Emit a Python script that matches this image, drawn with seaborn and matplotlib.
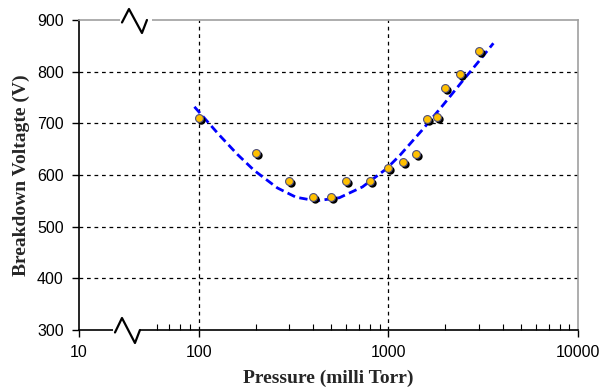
import numpy as np
import matplotlib
matplotlib.use("Agg")
import matplotlib.pyplot as plt
import matplotlib.transforms as mtransforms
from matplotlib.ticker import FixedLocator, FixedFormatter, NullFormatter
import seaborn as sns

# Data
pressure = [100, 200, 300, 400, 500, 600, 800, 1000, 1200, 1400, 1600, 1800, 2000, 2400, 3000]
voltage = [710, 642, 588, 558, 558, 589, 588, 613, 625, 640, 708, 713, 769, 795, 840]

# dashed trend line
trend_p = [95, 128, 160, 196, 260, 326, 416, 552, 731, 977, 1150, 1500, 1940, 2475, 3000, 3580]
trend_v = [732, 678, 640, 609, 575, 557, 550, 556, 577, 612, 638, 686, 735, 783, 820, 855]

x_ticks = [100, 1000, 10000]
x_tick_labels = ["10", "100", "1000", "10000"]
y_ticks = [300, 400, 500, 600, 700, 800, 900]

sns.set_theme(style="white")
plt.rcParams["font.family"] = ["Liberation Sans", "DejaVu Sans"]

fig = plt.figure(figsize=(6, 3.9), dpi=100)
ax = fig.add_axes([79 / 600, 60 / 390, 499 / 600, 310 / 390])

sns.lineplot(x=trend_p, y=trend_v, ax=ax, color="#0000FF", lw=2, zorder=3, sort=False)
ax.lines[-1].set_dashes((3, 1.6))

# points with a dark drop shadow
shadow = mtransforms.offset_copy(ax.transData, fig=fig, x=2, y=-2, units="dots")
ax.scatter(pressure, voltage, s=36, color="black", transform=shadow, zorder=4, linewidths=0)
sns.scatterplot(x=pressure, y=voltage, ax=ax, s=32, color="#FFC000",
                edgecolor="#50507a", linewidth=0.8, zorder=5)

ax.set_xscale("log")
xlo = 23.4
ax.set_xlim(xlo, 10000)
ax.set_ylim(300, 900)

ax.xaxis.set_major_locator(FixedLocator([xlo] + x_ticks))
ax.xaxis.set_major_formatter(FixedFormatter(x_tick_labels))
minor = [m * d for d in (10, 100, 1000) for m in range(2, 10) if m * d > 55]
ax.xaxis.set_minor_locator(FixedLocator(minor))
ax.xaxis.set_minor_formatter(NullFormatter())
ax.set_yticks(y_ticks)

ax.tick_params(axis="both", which="major", direction="out", length=5, width=1,
               color="black", labelsize=11.5, labelcolor="black", pad=6)
ax.tick_params(axis="x", which="minor", direction="in", length=4, width=0.8,
               color="black", bottom=True)
ax.tick_params(axis="x", which="major", bottom=True)
ax.tick_params(axis="y", which="major", left=True)

# grid lines: dashed, only interior
for v in [100, 1000]:
    ax.axvline(v, color="black", lw=0.9, ls=(0, (3, 3)), zorder=1)
for v in [400, 500, 600, 700, 800]:
    ax.axhline(v, color="black", lw=0.9, ls=(0, (3, 3)), zorder=1)

for side in ["left", "bottom"]:
    ax.spines[side].set_color("black")
    ax.spines[side].set_linewidth(1.2)
for side in ["top", "right"]:
    ax.spines[side].set_color("#a0a0a0")
    ax.spines[side].set_linewidth(1.2)

ax.set_xlabel("Pressure (milli Torr)", family="Liberation Serif", fontweight="bold",
              fontsize=14, labelpad=7)
ax.set_ylabel("Breakdown Voltagte (V)", family="Liberation Serif", fontweight="bold",
              fontsize=14, labelpad=5)

# axis break marks
def brk(x0, x1, y, up, down):
    ax.plot([x0, x1], [y, y], transform=ax.transAxes, color="white", lw=3,
            clip_on=False, zorder=6, solid_capstyle="butt")
    px = [x0 + 0.004, x0 + 0.018, x0 + 0.044, x0 + 0.054]
    py = [y - 0.008, y + up, y - down, y]
    ax.plot(px, py, transform=ax.transAxes, color="black", lw=1.6, clip_on=False, zorder=7)

trans_w = 1 / 499
brk(34 * trans_w, 61 * trans_w, 0.0, 12 / 310, 13 / 310)
brk(41 * trans_w, 73 * trans_w, 1.0, 11 / 310, 13 / 310)

fig.savefig("out.png", dpi=100)
